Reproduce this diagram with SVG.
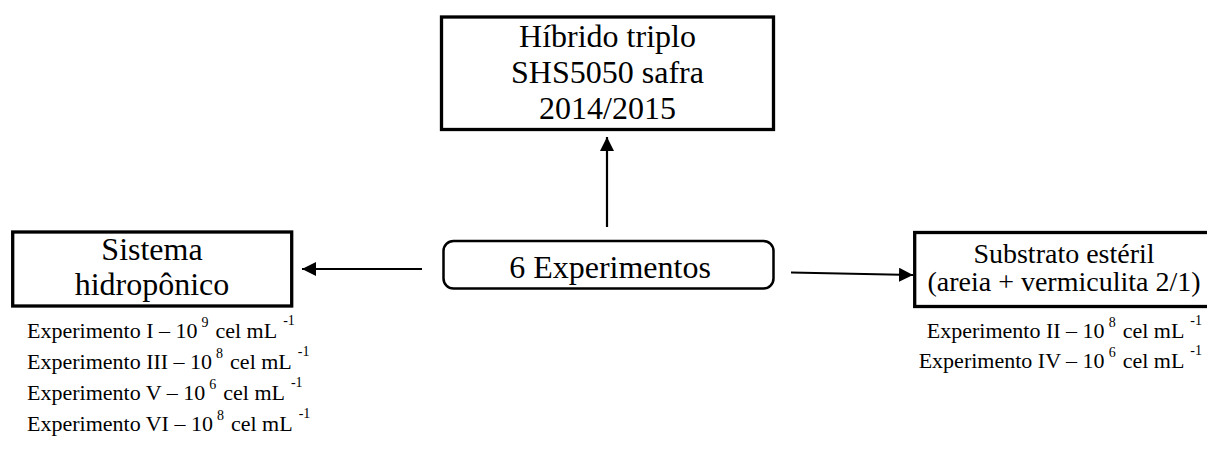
<svg xmlns="http://www.w3.org/2000/svg" width="1207" height="452" viewBox="0 0 1207 452">
<style>
text{font-family:"Liberation Serif","Times New Roman",serif;fill:#000}
.big{font-size:32px;text-anchor:middle}
.mid{font-size:28px;text-anchor:middle}
.sm{font-size:22px}
.sup{font-size:14px}
.box{fill:#fff;stroke:#000;stroke-width:3.3}
.conn{stroke:#000;stroke-width:2.2;fill:none}
</style>
<defs>
<marker id="ah" markerUnits="userSpaceOnUse" markerWidth="14" markerHeight="14" refX="14" refY="7" orient="auto">
<path d="M0,0 L14,7 L0,14 z" fill="#000"/>
</marker>
</defs>
<g id="connectors">
<line class="conn" x1="607" y1="227" x2="607" y2="137" marker-end="url(#ah)"/>
<line class="conn" x1="422" y1="269" x2="302" y2="269" marker-end="url(#ah)"/>
<line class="conn" x1="791" y1="272.5" x2="913" y2="275" marker-end="url(#ah)"/>
</g>
<g id="hibrido">
<rect class="box" x="441.5" y="17" width="332" height="112.5"/>
<text class="big" x="607.5" y="47">Híbrido triplo</text>
<text class="big" x="607.5" y="83">SHS5050 safra</text>
<text class="big" x="607.5" y="119">2014/2015</text>
</g>
<g id="experimentos">
<rect x="443.5" y="241" width="330" height="47.5" rx="10" ry="10" fill="#fff" stroke="#000" stroke-width="2.5"/>
<text class="big" x="610" y="278">6 Experimentos</text>
</g>
<g id="hidroponico">
<rect class="box" x="12.7" y="232" width="279" height="74"/>
<text class="big" x="152" y="260">Sistema</text>
<text class="big" x="152" y="295">hidropônico</text>
<text class="sm" x="27" y="338">Experimento I – 10<tspan class="sup" dx="4" dy="-11">9</tspan><tspan dx="7" dy="11">cel mL</tspan><tspan class="sup" dx="6" dy="-13">-1</tspan></text>
<text class="sm" x="27" y="369">Experimento III – 10<tspan class="sup" dx="4" dy="-11">8</tspan><tspan dx="7" dy="11">cel mL</tspan><tspan class="sup" dx="6" dy="-13">-1</tspan></text>
<text class="sm" x="27" y="400">Experimento V – 10<tspan class="sup" dx="4" dy="-11">6</tspan><tspan dx="7" dy="11">cel mL</tspan><tspan class="sup" dx="6" dy="-13">-1</tspan></text>
<text class="sm" x="27" y="431">Experimento VI – 10<tspan class="sup" dx="4" dy="-11">8</tspan><tspan dx="7" dy="11">cel mL</tspan><tspan class="sup" dx="6" dy="-13">-1</tspan></text>
</g>
<g id="substrato">
<rect class="box" x="914.7" y="232.5" width="300" height="74"/>
<text class="mid" x="1064" y="263">Substrato estéril</text>
<text class="mid" x="1064" y="291">(areia + vermiculita 2/1)</text>
<text class="sm" x="1202" y="338" text-anchor="end">Experimento II – 10<tspan class="sup" dx="4" dy="-11">8</tspan><tspan dx="7" dy="11">cel mL</tspan><tspan class="sup" dx="6" dy="-13">-1</tspan></text>
<text class="sm" x="1202" y="368" text-anchor="end">Experimento IV – 10<tspan class="sup" dx="4" dy="-11">6</tspan><tspan dx="7" dy="11">cel mL</tspan><tspan class="sup" dx="6" dy="-13">-1</tspan></text>
</g>
</svg>
